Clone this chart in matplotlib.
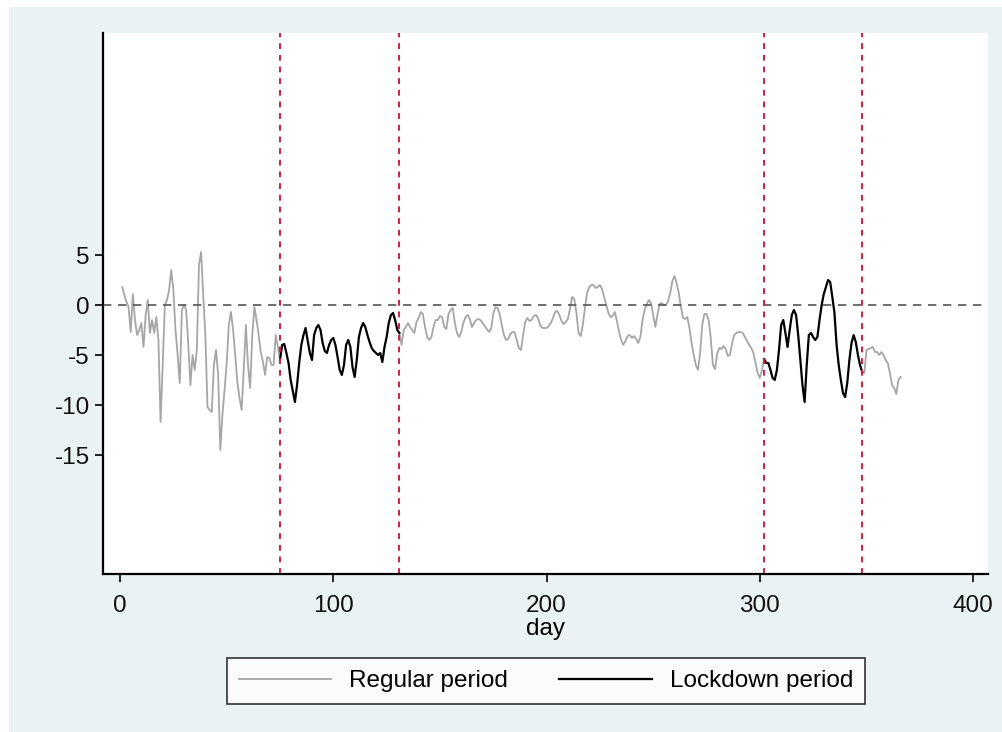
import numpy as np
import matplotlib
matplotlib.use("Agg")
import matplotlib.pyplot as plt
from matplotlib.patches import Rectangle

plt.rcParams["font.family"] = ["Liberation Sans", "DejaVu Sans"]

# daily values, day 1..365
values = [
    1.8, 1.0, 0.3, -0.2, -2.7, 1.1, -1.5, -3.0, -2.5, -1.8,
    -4.2, -1.0, 0.5, -2.8, -1.5, -2.8, -1.2, -3.5, -11.7, -6.0,
    0.0, 0.5, 1.5, 3.5, 1.5, -2.5, -5.0, -7.8, -0.5, 0.0,
    -0.5, -4.0, -8.0, -5.0, -6.5, -4.5, 4.0, 5.3, 1.0, -3.0,
    -10.2, -10.5, -10.7, -6.0, -4.5, -7.0, -14.5, -11.0, -8.5, -5.8,
    -2.0, -0.7, -2.5, -5.0, -7.7, -9.3, -10.5, -6.5, -2.0, -6.0,
    -8.3, -3.0, -0.2, -1.5, -3.0, -4.7, -5.7, -7.0, -5.2, -5.3,
    -6.0, -6.0, -3.0, -4.2, -5.5, -4.0, -3.9, -4.8, -5.8, -7.5,
    -8.6, -9.7, -8.0, -5.8, -4.0, -3.0, -2.3, -3.6, -4.8, -5.5,
    -3.0, -2.3, -2.0, -2.5, -3.8, -4.6, -4.8, -4.0, -3.5, -3.3,
    -4.0, -5.2, -6.5, -7.0, -6.0, -4.0, -3.5, -4.2, -6.2, -7.2,
    -5.5, -3.2, -2.3, -1.8, -2.2, -3.0, -3.7, -4.3, -4.6, -4.8,
    -5.0, -4.8, -5.7, -4.2, -3.2, -1.8, -1.0, -0.8, -1.5, -2.5,
    -2.8, -4.0, -2.5, -2.2, -1.8, -2.2, -2.5, -2.8, -1.7, -1.3,
    -0.7, -0.9, -2.2, -3.2, -3.5, -3.2, -2.2, -1.5, -1.5, -1.1,
    -1.2, -2.2, -2.4, -0.9, -0.5, -0.3, -1.8, -2.8, -3.2, -2.7,
    -1.8, -1.2, -1.0, -1.4, -2.2, -1.8, -1.5, -1.4, -1.5, -1.8,
    -2.1, -2.4, -2.7, -2.4, -0.9, -0.2, -0.3, -0.9, -2.0, -3.0,
    -3.5, -3.4, -2.9, -2.7, -2.7, -3.5, -4.3, -4.5, -3.0, -1.7,
    -1.3, -1.6, -1.5, -1.1, -1.0, -1.3, -2.0, -2.3, -2.3, -2.3,
    -2.1, -1.8, -1.3, -0.7, -0.6, -1.0, -1.6, -1.9, -1.7, -1.4,
    -0.4, 0.8, 0.6, -0.8, -2.8, -3.1, -2.0, -0.3, 1.2, 1.8,
    2.0, 2.0, 1.7, 1.8, 2.0, 1.6, 0.8, 0.0, -0.8, -1.2,
    -1.1, -0.7, -1.6, -2.7, -3.5, -4.0, -3.6, -3.1, -3.0, -3.3,
    -3.1, -3.4, -3.8, -3.2, -1.5, -0.5, 0.1, 0.5, 0.2, -1.0,
    -2.2, -1.0, 0.1, 0.2, 0.0, 0.0, 0.4, 1.2, 2.4, 2.9,
    2.2, 1.2, -0.2, -1.3, -1.4, -1.2, -2.3, -3.8, -5.0, -6.0,
    -6.5, -4.8, -2.0, -0.9, -0.9, -1.5, -3.3, -6.0, -6.4, -4.9,
    -4.3, -4.4, -4.1, -4.4, -5.1, -5.0, -3.8, -3.0, -2.8, -2.7,
    -2.7, -2.8, -3.2, -3.6, -4.0, -4.3, -4.8, -5.8, -6.8, -7.3,
    -6.5, -5.4, -5.8, -5.8, -6.5, -7.3, -7.5, -6.5, -4.5, -2.0,
    -1.5, -2.8, -4.2, -2.5, -1.0, -0.5, -1.0, -3.0, -5.5, -8.0,
    -9.7, -6.0, -3.0, -2.8, -3.2, -3.5, -3.2, -1.5, 0.0, 1.1,
    1.8, 2.5, 2.3, 0.8, -0.8, -4.0, -6.0, -7.5, -8.8, -9.2,
    -7.8, -5.5, -3.8, -3.0, -3.7, -5.0, -6.0, -6.7, -6.8, -4.5,
    -4.4, -4.3, -4.2, -4.7, -4.7, -5.0, -4.7, -5.0, -5.5, -5.8,
    -6.8, -8.0, -8.3, -8.9, -7.5, -7.2,
]
days = np.arange(1, len(values) + 1)
lockdowns = [(75, 131), (302, 348)]

y = np.array(values, dtype=float)
in_lock = np.zeros(len(y), dtype=bool)
strict = np.zeros(len(y), dtype=bool)
for a, b in lockdowns:
    in_lock |= (days >= a) & (days <= b)
    strict |= (days > a) & (days < b)
regular = np.where(strict, np.nan, y)
lock = np.where(in_lock, y, np.nan)

fig = plt.figure(figsize=(10.03, 7.32), dpi=100)
fig.patch.set_facecolor("white")
fig.patches.append(Rectangle((9 / 1003, 0), 1, 1 - 7 / 732, transform=fig.transFigure,
                             facecolor="#EAF2F3", edgecolor="none", zorder=-10))

ax = fig.add_axes([103 / 1003, 158 / 732, 885 / 1003, 541 / 732])
ax.set_facecolor("white")

ax.plot(days, regular, color="#A6A6A6", lw=1.3, label="Regular period")
ax.plot(days, lock, color="black", lw=1.6, label="Lockdown period")
ax.axhline(0, color="#555555", lw=1.2, ls=(0, (5, 4)))
for a, b in lockdowns:
    for d in (a, b):
        ax.axvline(d, color="#CC1F4A", lw=1.4, ls=(0, (3, 3)))

ax.set_xlim(-8, 407)
ax.set_ylim(-26.9, 27.2)
ax.set_xticks([0, 100, 200, 300, 400])
ax.set_yticks([5, 0, -5, -10, -15])
ax.set_yticklabels(["5", "0", "-5", "-10", "-15"])
ax.tick_params(labelsize=17.5, length=6, width=1.3, colors="#111111")
ax.tick_params(axis="x", pad=9)
for s in ("top", "right"):
    ax.spines[s].set_visible(False)
for s in ("left", "bottom"):
    ax.spines[s].set_linewidth(1.6)
ax.set_xlabel("day", fontsize=17.5, labelpad=1)

leg = fig.legend(loc="center", bbox_to_anchor=(546 / 1003, 1 - 681 / 732), ncol=2,
                 fontsize=17.5, frameon=True, fancybox=False, edgecolor="black",
                 handlelength=3.8, columnspacing=2.1, borderpad=0.5, handletextpad=0.75)
leg.get_frame().set_linewidth(1.2)

fig.savefig("out.png", dpi=100, facecolor=fig.get_facecolor())
